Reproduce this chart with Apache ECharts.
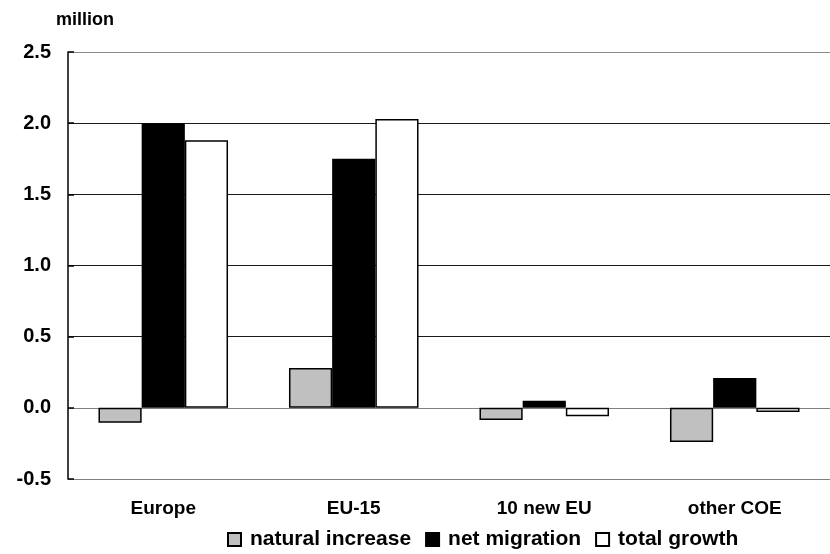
<!DOCTYPE html>
<html>
<head>
<meta charset="utf-8">
<script src="https://cdn.jsdelivr.net/npm/echarts@6/dist/echarts.min.js"></script>
<style>
  html, body { margin: 0; padding: 0; background: #fff; }
  #chart { width: 830px; height: 554px; }
</style>
</head>
<body>
<div id="chart"></div>
<script>
// Population change by region, in millions
const categories = ['Europe', 'EU-15', '10 new EU', 'other COE'];
const naturalIncrease = [-0.105, 0.28, -0.085, -0.24];
const netMigration = [2.0, 1.75, 0.05, 0.21];
const totalGrowth = [1.88, 2.03, -0.06, -0.03];
const seriesNames = ['natural increase', 'net migration', 'total growth'];

const FONT = 'Liberation Sans, Arial, sans-serif';
const chart = echarts.init(document.getElementById('chart'), null, { renderer: 'canvas' });

// gridline colours, bottom to top: -0.5, 0.0, 0.5, 1.0, 1.5, 2.0, 2.5
const gridColors = ['#808080', '#808080', '#1a1a1a', '#1a1a1a', '#1a1a1a', '#1a1a1a', '#8a8a8a'];

function barSeries(name, data, fill) {
  return {
    name: name,
    type: 'bar',
    data: data,
    barGap: '0%',
    barCategoryGap: '32%',
    itemStyle: { color: fill, borderColor: '#000', borderWidth: 1.5 },
    emphasis: { disabled: true }
  };
}

chart.setOption({
  animation: false,
  backgroundColor: '#fff',
  graphic: [{
    type: 'text',
    left: 56, top: 11,
    style: { text: 'million', font: 'bold 18px ' + FONT, fill: '#000' }
  }],
  grid: { left: 68, top: 52, width: 776, height: 427, containLabel: false },
  legend: {
    data: seriesNames,
    left: 222, top: 524,
    icon: 'rect',
    itemWidth: 13, itemHeight: 13,
    itemGap: 14,
    textStyle: { fontFamily: FONT, fontWeight: 'bold', fontSize: 21, color: '#000', padding: [0, 0, 0, 4] }
  },
  xAxis: {
    type: 'category',
    data: categories,
    position: 'bottom',
    axisLine: { show: false, onZero: false },
    axisTick: { show: false },
    axisLabel: { margin: 20, fontFamily: FONT, fontWeight: 'bold', fontSize: 19, color: '#000' },
    splitLine: { show: false }
  },
  yAxis: {
    type: 'value',
    min: -0.5, max: 2.5, interval: 0.5,
    axisLine: { show: true, lineStyle: { color: '#000', width: 1.5 } },
    axisTick: { show: true, inside: true, length: 6, lineStyle: { color: '#000', width: 1.5 } },
    axisLabel: {
      margin: 17,
      fontFamily: FONT, fontWeight: 'bold', fontSize: 20, color: '#000',
      formatter: v => v.toFixed(1)
    },
    splitLine: { show: true, lineStyle: { color: gridColors, width: 1.2 } }
  },
  series: [
    barSeries(seriesNames[0], naturalIncrease, '#c0c0c0'),
    barSeries(seriesNames[1], netMigration, '#000000'),
    barSeries(seriesNames[2], totalGrowth, '#ffffff')
  ]
});
</script>
</body>
</html>
